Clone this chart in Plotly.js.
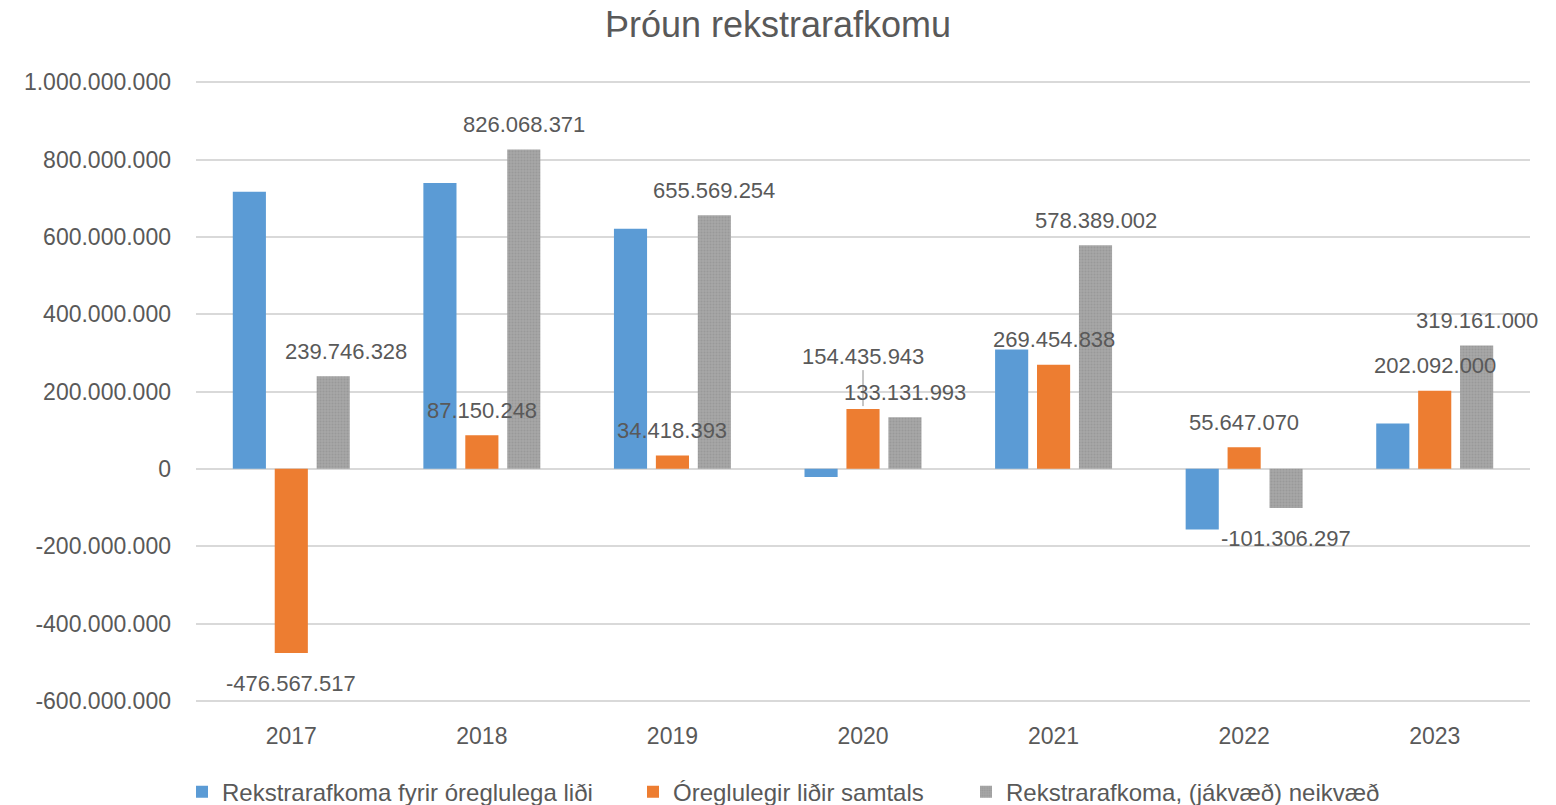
<!DOCTYPE html>
<html><head><meta charset="utf-8">
<script src="https://cdn.plot.ly/plotly-3.0.1.min.js"></script>
<style>html,body{margin:0;padding:0;background:#fff}#chart{width:1556px;height:805px}</style>
</head><body><div id="chart"></div>
<script>
// ---- data ----
const years = ['2017', '2018', '2019', '2020', '2021', '2022', '2023'];
const seriesNames = ['Rekstrarafkoma fyrir óreglulega liði', 'Óreglulegir liðir samtals', 'Rekstrarafkoma, (jákvæð) neikvæð'];
const rekstrarafkomaFyrir = [716313845, 738918123, 621150861, -21303950, 308934164, -156953367, 117069000];
const oreglulegirLidir = [-476567517, 87150248, 34418393, 154435943, 269454838, 55647070, 202092000];
const rekstrarafkoma = [239746328, 826068371, 655569254, 133131993, 578389002, -101306297, 319161000];
const yTickVals = [-600000000, -400000000, -200000000, 0, 200000000, 400000000, 600000000, 800000000, 1000000000];
const yTickText = ['-600.000.000', '-400.000.000', '-200.000.000', '0', '200.000.000', '400.000.000', '600.000.000', '800.000.000', '1.000.000.000'];
const chartTitle = 'Þróun rekstrarafkomu';

// ---- style ----
const FONT = 'Liberation Sans, Arial, sans-serif';
const TXT = '#595959';
const colors = ['#5B9BD5', '#ED7D31', '#A5A5A5'];
const seriesValues = [rekstrarafkomaFyrir, oreglulegirLidir, rekstrarafkoma];

function fmt(v) {
  const s = Math.abs(Math.round(v)).toString().replace(/\B(?=(\d{3})+(?!\d))/g, '.');
  return (v < 0 ? '-' : '') + s;
}

const legendIds = ['legend', 'legend2', 'legend3'];
const traces = seriesValues.map((vals, k) => {
  const marker = {color: colors[k], line: {width: 0}};
  if (k === 2) marker.pattern = {shape: '.', bgcolor: '#A8A8A8', fgcolor: '#999999', size: 3, solidity: 0.4};
  return {type: 'bar', name: seriesNames[k], x: years, y: vals, marker: marker,
          legend: legendIds[k], hoverinfo: 'x+y'};
});

// label offsets (pixels), per series slot
const slotShift = [-42, 0, 42];
const special = {'1-3': {dy: 53, leader: true}, '2-0': {dx: 13}};
const annotations = [];
[1, 2].forEach(k => {
  seriesValues[k].forEach((v, i) => {
    const sp = special[k + '-' + i] || {};
    const dx = slotShift[k] + (sp.dx || 0);
    // category axis: annotation x given as category index
    const base = {x: i, y: v, xref: 'x', yref: 'y', text: fmt(v),
                  font: {family: FONT, size: 22, color: TXT}, xanchor: 'center', yanchor: 'middle'};
    if (sp.leader) {
      annotations.push(Object.assign(base, {showarrow: true, arrowhead: 0, arrowwidth: 1, arrowcolor: '#8c8c8c',
        ax: 0, ay: -sp.dy, xshift: dx, standoff: 3}));
    } else {
      const dy = v >= 0 ? 25 : -30;
      annotations.push(Object.assign(base, {showarrow: false, xshift: dx, yshift: dy}));
    }
  });
});

const legendBase = {orientation: 'h', xref: 'container', yref: 'container', yanchor: 'middle', y: 0.016,
  xanchor: 'left', font: {family: FONT, size: 24, color: TXT}, bgcolor: 'rgba(0,0,0,0)', itemclick: false};

const layout = {
  width: 1556, height: 805,
  paper_bgcolor: '#fff', plot_bgcolor: '#fff',
  margin: {l: 196, r: 26, t: 81, b: 103},
  font: {family: FONT, color: TXT},
  title: {text: chartTitle, x: 0.5, xref: 'container', xanchor: 'center', y: 0.97, yref: 'container', yanchor: 'middle',
          font: {family: FONT, size: 36, color: TXT}},
  barmode: 'group', bargap: 0.34, bargroupgap: 0.21,
  xaxis: {type: 'category', range: [-0.5, 6.5], autorange: false, showgrid: false, showline: false, zeroline: false, ticks: '',
          tickfont: {family: FONT, size: 23, color: TXT}, ticklabelstandoff: 18},
  yaxis: {range: [-603000000, 1003000000], autorange: false, tickmode: 'array', tickvals: yTickVals, ticktext: yTickText,
          showgrid: true, gridcolor: '#D9D9D9', gridwidth: 2, zeroline: true, zerolinecolor: '#D9D9D9', zerolinewidth: 2,
          showline: false, ticks: '', tickfont: {family: FONT, size: 23, color: TXT}, ticklabelstandoff: 24},
  showlegend: true,
  legend: Object.assign({}, legendBase, {x: 182 / 1556}),
  legend2: Object.assign({}, legendBase, {x: 633 / 1556}),
  legend3: Object.assign({}, legendBase, {x: 966 / 1556}),
  annotations: annotations
};

Plotly.newPlot('chart', traces, layout, {displayModeBar: false, staticPlot: true});
</script>
</body></html>
